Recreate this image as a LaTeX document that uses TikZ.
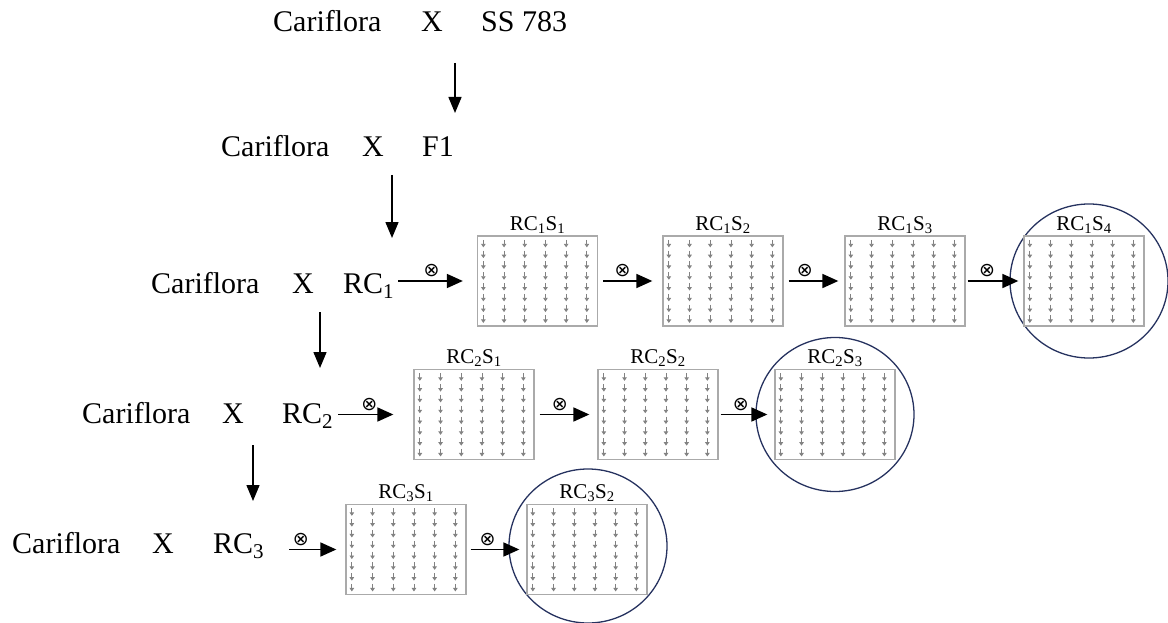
\documentclass[tikz,border=0pt]{standalone}
\usepackage{fontspec}
\setmainfont{Liberation Serif}
\newfontfamily\symfont{DejaVu Sans}
\usetikzlibrary{arrows.meta,calc,shapes.geometric}
\definecolor{boxgray}{RGB}{170,170,170}
\definecolor{arrgray}{RGB}{130,130,130}
\definecolor{ringblue}{RGB}{38,50,95}
\newcommand{\arrowgrid}[1]{%
  \foreach \i in {0,...,5}{\foreach \j in {0,...,7}{%
    \draw[smallarr] ($(#1.north west)+(6.5+20.7*\i,4.5+10.8*\j)$) -- ++(0,7.5);}}}
\tikzset{
  maintxt/.style={font=\fontsize{30}{36}\selectfont, inner sep=0pt, anchor=base west},
  boxlab/.style={font=\fontsize{21}{24}\selectfont, inner sep=0pt, anchor=base},
  gridbox/.style={draw=boxgray, line width=1.3pt, fill=white, minimum width=120pt, minimum height=90pt, inner sep=0pt},
  ring/.style={draw=ringblue, line width=1.3pt, ellipse, minimum width=158pt, minimum height=154pt, inner sep=0pt},
  bigarr/.style={line width=1.8pt, -{Triangle[length=16pt,width=14pt]}},
  vertarr/.style={line width=1.5pt, -{Triangle[length=16pt,width=13pt]}},
  smallarr/.style={draw=arrgray, line width=0.8pt, -{Triangle[length=3.5pt,width=4.5pt]}},
  selfing/.style={font=\symfont\fontsize{19}{19}\selectfont, inner sep=0pt, above=3pt}
}
\begin{document}
\begin{tikzpicture}[x=1pt,y=-1pt]
\useasboundingbox (0,0) rectangle (1168,623);
% text rows
\node[maintxt] (c0) at (273,32) {Cariflora};
\node[maintxt] (x0) at (421,32) {X};
\node[maintxt] (p0) at (481,32) {SS 783};
\node[maintxt] (c1) at (221,157) {Cariflora};
\node[maintxt] (x1) at (362,157) {X};
\node[maintxt] (p1) at (422,157) {F1};
\node[maintxt] (c2) at (151,293) {Cariflora};
\node[maintxt] (x2) at (292,293) {X};
\node[maintxt] (r1) at (343,293) {RC\textsubscript{1}};
\node[maintxt] (c3) at (82,423) {Cariflora};
\node[maintxt] (x3) at (222,423) {X};
\node[maintxt] (r2) at (282,423) {RC\textsubscript{2}};
\node[maintxt] (c4) at (12,553) {Cariflora};
\node[maintxt] (x4) at (152,553) {X};
\node[maintxt] (r3) at (213,553) {RC\textsubscript{3}};
% vertical arrows
\coordinate (a1s) at (455,63);  \coordinate (a1e) at (455,113);
\coordinate (a2s) at (392,175); \coordinate (a2e) at (392,238);
\coordinate (a3s) at (320,312); \coordinate (a3e) at (320,368);
\coordinate (a4s) at (253,445); \coordinate (a4e) at (253,501);
\draw[vertarr] (a1s) -- (a1e);
\draw[vertarr] (a2s) -- (a2e);
\draw[vertarr] (a3s) -- (a3e);
\draw[vertarr] (a4s) -- (a4e);
% rings
\node[ring] (ring1) at (1089,281) {};
\node[ring] (ring2) at (835,414.5) {};
\node[ring] (ring3) at (588,546) {};
% boxes
\node[gridbox] (b11) at (537.5,281) {};
\node[gridbox] (b12) at (723,281) {};
\node[gridbox] (b13) at (905,281) {};
\node[gridbox] (b14) at (1084,281) {};
\node[gridbox] (b21) at (474,414.5) {};
\node[gridbox] (b22) at (658,414.5) {};
\node[gridbox] (b23) at (835,414.5) {};
\node[gridbox] (b31) at (406,549.5) {};
\node[gridbox] (b32) at (587,549.5) {};
\foreach \b in {b11,b12,b13,b14,b21,b22,b23,b31,b32}{\arrowgrid{\b}}
% labels
\node[boxlab] (l11) at ($(b11.north)+(0,-5)$) {RC\textsubscript{1}S\textsubscript{1}};
\node[boxlab] (l12) at ($(b12.north)+(0,-5)$) {RC\textsubscript{1}S\textsubscript{2}};
\node[boxlab] (l13) at ($(b13.north)+(0,-5)$) {RC\textsubscript{1}S\textsubscript{3}};
\node[boxlab] (l14) at ($(b14.north)+(0,-5)$) {RC\textsubscript{1}S\textsubscript{4}};
\node[boxlab] (l21) at ($(b21.north)+(0,-5)$) {RC\textsubscript{2}S\textsubscript{1}};
\node[boxlab] (l22) at ($(b22.north)+(0,-5)$) {RC\textsubscript{2}S\textsubscript{2}};
\node[boxlab] (l23) at ($(b23.north)+(0,-5)$) {RC\textsubscript{2}S\textsubscript{3}};
\node[boxlab] (l31) at ($(b31.north)+(0,-5)$) {RC\textsubscript{3}S\textsubscript{1}};
\node[boxlab] (l32) at ($(b32.north)+(0,-5)$) {RC\textsubscript{3}S\textsubscript{2}};
% horizontal selfing arrows
\draw[bigarr, shorten <=4pt, shorten >=14pt] (r1.east |- b11.west) -- node[selfing, pos=0.45] (s10) {⊗} (b11.west);
\draw[bigarr, shorten <=5pt, shorten >=10pt] (b11.east) -- node[selfing, pos=0.38] (s11) {⊗} (b12.west);
\draw[bigarr, shorten <=5pt, shorten >=6pt] (b12.east) -- node[selfing, pos=0.35] (s12) {⊗} (b13.west);
\draw[bigarr, shorten <=2pt, shorten >=5pt] (b13.east) -- node[selfing, pos=0.37] (s13) {⊗} (b14.west);
\draw[bigarr, shorten <=5pt, shorten >=20pt] (r2.east |- b21.west) -- node[selfing, pos=0.45] (s20) {⊗} (b21.west);
\draw[bigarr, shorten <=5pt, shorten >=8pt] (b21.east) -- node[selfing, pos=0.4] (s21) {⊗} (b22.west);
\draw[bigarr, shorten <=2pt, shorten >=7pt] (b22.east) -- node[selfing, pos=0.4] (s22) {⊗} (b23.west);
\draw[bigarr, shorten <=25pt, shorten >=9pt] (r3.east |- b31.west) -- node[selfing, pos=0.45] (s30) {⊗} (b31.west);
\draw[bigarr, shorten <=4pt, shorten >=7pt] (b31.east) -- node[selfing, pos=0.35] (s31) {⊗} (b32.west);
\end{tikzpicture}
\end{document}
